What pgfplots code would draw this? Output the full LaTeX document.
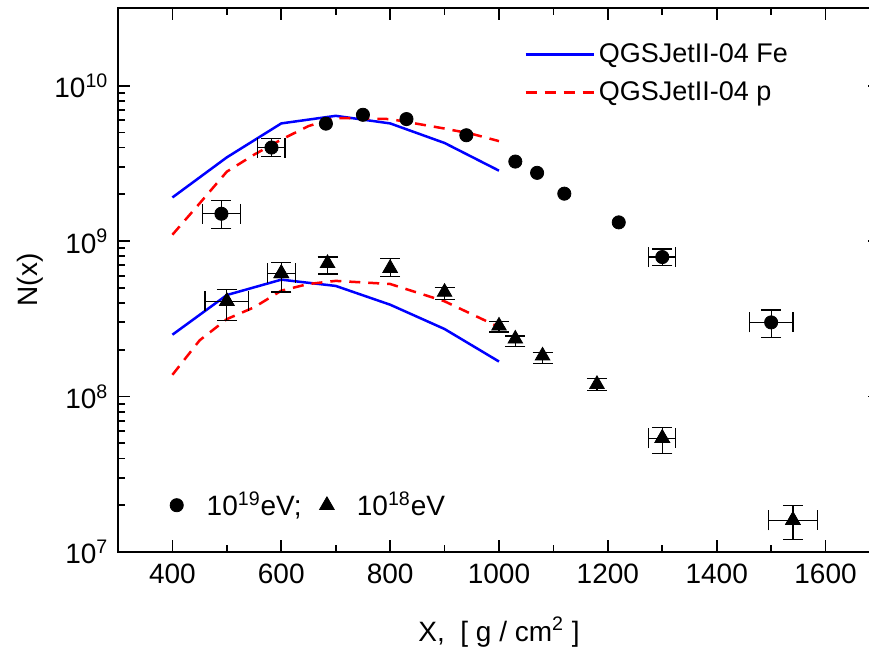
\documentclass[border=0pt]{standalone}
\usepackage{fontspec}
\setmainfont{Liberation Sans}
\usepackage{pgfplots}
\pgfplotsset{compat=1.18}
\usetikzlibrary{calc}

\begin{document}
\begin{tikzpicture}
\pgfplotsset{
  /pgfplots/error bars/errstyle/.style={error bar style={line width=0.6pt, black},
    error mark options={rotate=90, mark size=5pt, line width=0.6pt, black}},
}
\begin{axis}[
  name=main,
  scale only axis,
  width=381pt, height=272pt,
  font=\fontsize{14}{16}\selectfont,
  xmin=300, xmax=1700,
  ymode=log, ymin=1e7, ymax=3.1623e10,
  xtick={400,600,...,1600},
  minor x tick num=1,
  ytick={1e7,1e8,1e9,1e10},
  yticklabels={10\textsuperscript{7},10\textsuperscript{8},10\textsuperscript{9},10\textsuperscript{10}},
  /pgf/number format/assume math mode=true,
  /pgf/number format/1000 sep={},
  tick align=inside,
  major tick length=6pt, minor tick length=3.5pt,
  axis line style={line width=0.9pt},
  tick style={line width=0.9pt, black},
  xticklabel style={yshift=-2.6pt},
  yticklabel style={xshift=-1.3pt},
  xlabel={X,\ \ [ g / cm\textsuperscript{2} ]},
  ylabel={N(x)},
  xlabel style={at={(axis description cs:0.5,-0.147)}, anchor=center},
  ylabel style={at={(axis description cs:-0.1155,0.5)}, anchor=center},
  legend style={draw=none, fill=none, at={(axis description cs:0.525,0.95)},
    anchor=north west, font=\fontsize{13.5}{16}\selectfont, row sep=4pt},
  legend cell align=left,
  legend image code/.code={\draw[#1] (0pt,0pt) -- (34pt,0pt);},
]

% QGSJetII-04 model curves
\addplot[blue, line width=1.25pt] coordinates {
  (400,1.91e9)(500,3.46e9)(600,5.72e9)(700,6.4e9)(800,5.72e9)(900,4.28e9)(1000,2.84e9)
};
\addlegendentry{QGSJetII-04 Fe}
\addplot[red, line width=1.25pt, dash pattern=on 5.5pt off 4pt] coordinates {
  (400,1.1e9)(450,1.75e9)(500,2.8e9)(550,3.6e9)(600,4.5e9)(650,5.5e9)(700,6.2e9)
  (800,6.1e9)(900,5.3e9)(950,4.9e9)(1000,4.4e9)
};
\addlegendentry{QGSJetII-04 p}
\addplot[blue, line width=1.25pt, forget plot] coordinates {
  (400,2.5e8)(500,4.5e8)(600,5.65e8)(700,5.15e8)(800,3.9e8)(900,2.72e8)(1000,1.68e8)
};
\addplot[red, line width=1.25pt, dash pattern=on 5.5pt off 4pt, forget plot] coordinates {
  (400,1.38e8)(450,2.3e8)(500,3.15e8)(550,3.75e8)(600,4.8e8)(650,5.3e8)(700,5.55e8)
  (800,5.3e8)(900,4.1e8)(1000,2.8e8)
};

% 10^19 eV
\addplot[only marks, mark=*, mark size=3.3pt, black, forget plot] coordinates {
  (682,5.7e9)(750,6.5e9)(830,6.1e9)(940,4.8e9)(1030,3.25e9)(1070,2.75e9)(1120,2.02e9)(1220,1.32e9)
};
\addplot[only marks, mark=*, mark size=3.3pt, black, forget plot,
  error bars/.cd, x dir=both, x explicit, y dir=both, y explicit, errstyle]
  table[x=x, y=y, x error=ex, y error plus=ep, y error minus=em] {
  x     y       ex   ep       em
  490   1.5e9   35   0.32e9   0.3e9
  582   4.0e9   25   0.6e9    0.5e9
  1300  7.9e8   25   1.0e8    0.9e8
  1500  3.0e8   40   0.6e8    0.6e8
};

% 10^18 eV
\addplot[only marks, mark=triangle*, mark size=4.2pt, black, forget plot,
  error bars/.cd, y dir=both, y explicit, errstyle]
  table[x=x, y=y, y error plus=ep, y error minus=em] {
  x     y       ep       em
  500   4.1e8   0.8e8    1.0e8
  600   6.2e8   1.1e8    1.5e8
  685   7.2e8   0.7e8    1.05e8
  800   6.7e8   1.0e8    0.8e8
  900   4.7e8   0.35e8   0.5e8
  1000  2.85e8  0.2e8    0.25e8
  1030  2.35e8  0.1e8    0.25e8
  1080  1.83e8  0.08e8   0.2e8
  1180  1.2e8   0.1e8    0.1e8
  1300  5.4e7   0.9e7    1.1e7
  1540  1.6e7   0.4e7    0.4e7
};
\addplot[only marks, mark=triangle*, mark size=4.2pt, black, forget plot,
  error bars/.cd, x dir=both, x explicit, errstyle]
  table[x=x, y=y, x error=ex] {
  x     y       ex
  500   4.1e8   40
  600   6.2e8   26
  1300  5.4e7   25
  1540  1.6e7   45
};
\end{axis}

\begin{axis}[
  at={(main.south west)}, anchor=south west,
  scale only axis, width=381pt, height=272pt,
  hide axis, xmin=0, xmax=1, ymin=0, ymax=1,
  legend style={draw=none, fill=none, at={(axis description cs:0.06,0.086)},
    anchor=west, legend columns=2, font=\fontsize{14}{16}\selectfont,
    /tikz/every even column/.append style={column sep=7pt}},
  legend image code/.code={\draw[#1] plot coordinates {(0pt,0pt)};
    \path[draw=none, fill=none] (0pt,-0.1pt) rectangle (13pt,0.1pt);},
]
\addlegendimage{only marks, mark=*, mark size=3.3pt, black}
\addlegendentry{10\textsuperscript{19}eV;}
\addlegendimage{only marks, mark=triangle*, mark size=4.2pt, black}
\addlegendentry{10\textsuperscript{18}eV}
\end{axis}

\pgfresetboundingbox
\path[use as bounding box] ($(main.south west)+(-59pt,-48.5pt)$) rectangle ($(main.south west)+(375.5pt,276pt)$);
\end{tikzpicture}
\end{document}
